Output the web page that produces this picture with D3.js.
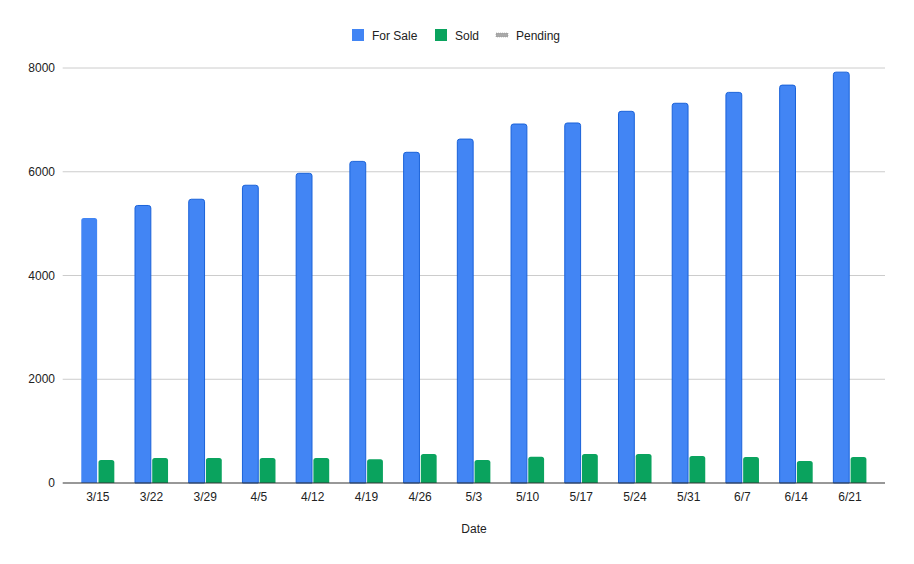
<!DOCTYPE html>
<html><head><meta charset="utf-8">
<script src="https://cdn.jsdelivr.net/npm/d3@7"></script>
<style>
body{margin:0;background:#fff;}
text{font-family:Arial,"Liberation Sans",sans-serif;}
</style></head>
<body><svg id="c" width="914" height="564"></svg>
<script>
const categories=["3/15","3/22","3/29","4/5","4/12","4/19","4/26","5/3","5/10","5/17","5/24","5/31","6/7","6/14","6/21"];
const forSale=[5110,5350,5470,5740,5970,6200,6375,6630,6920,6940,7165,7320,7530,7670,7920];
const sold=[443,482,482,482,482,457,559,443,507,559,559,520,501,424,501];
const seriesNames=["For Sale","Sold","Pending"];
const yTicks=[0,2000,4000,6000,8000];

(function(){
const svg=d3.select("#c");
const pLeft=62.7,pRight=885,pTop=68,pBottom=483;
const x=d3.scaleBand().domain(categories).range([pLeft,pRight]).paddingInner(0.385).paddingOuter(0.346);
const x1=d3.scaleBand().domain(["For Sale","Sold"]).range([0,x.bandwidth()]).paddingInner(0.08);
const y=d3.scaleLinear().domain([0,8000]).range([pBottom,pTop]);

svg.append("g").selectAll("line").data(yTicks.filter(d=>d>0)).join("line")
 .attr("x1",pLeft).attr("x2",pRight).attr("y1",d=>y(d)).attr("y2",d=>y(d))
 .attr("stroke","#cccccc").attr("stroke-width",1);
svg.append("g").selectAll("text").data(yTicks).join("text")
 .attr("x",55).attr("y",d=>y(d)).attr("dy","0.35em").attr("text-anchor","end")
 .attr("font-size",12).attr("fill","#222").text(d=>d);

function topRounded(x0,y0,w,h,r){
  r=Math.min(r,w/2,h);
  return `M${x0},${y0+h}V${y0+r}Q${x0},${y0} ${x0+r},${y0}H${x0+w-r}Q${x0+w},${y0} ${x0+w},${y0+r}V${y0+h}Z`;
}
const g=svg.append("g");
g.selectAll("path.fs").data(categories).join("path").attr("class","fs")
 .attr("d",(c,i)=>topRounded(x(c)+x1("For Sale"),y(forSale[i]),x1.bandwidth(),y(0)-y(forSale[i]),2.5))
 .attr("fill","#4285f4").attr("stroke",(c,i)=>i===0?"none":"#1a62d9").attr("stroke-width",1);
g.selectAll("path.sd").data(categories).join("path").attr("class","sd")
 .attr("d",(c,i)=>topRounded(x(c)+x1("Sold"),y(sold[i]),x1.bandwidth(),y(0)-y(sold[i]),2.5))
 .attr("fill","#0aa35e");

svg.append("line").attr("x1",pLeft).attr("x2",pRight).attr("y1",y(0)).attr("y2",y(0))
 .attr("stroke","#333").attr("stroke-width",1.2);

svg.append("g").selectAll("text").data(categories).join("text")
 .attr("x",c=>x(c)+x.bandwidth()/2).attr("y",501).attr("text-anchor","middle")
 .attr("font-size",12).attr("fill","#222").text(c=>c);
svg.append("text").attr("x",474).attr("y",533).attr("text-anchor","middle")
 .attr("font-size",12).attr("fill","#222").text("Date");

const lg=svg.append("g");
lg.append("rect").attr("x",352).attr("y",29).attr("width",12).attr("height",12).attr("fill","#4285f4");
lg.append("text").attr("x",372).attr("y",39.5).attr("font-size",12).attr("fill","#222").text(seriesNames[0]);
lg.append("rect").attr("x",435).attr("y",29).attr("width",12).attr("height",12).attr("fill","#0aa35e");
lg.append("text").attr("x",455).attr("y",39.5).attr("font-size",12).attr("fill","#222").text(seriesNames[1]);
lg.append("rect").attr("x",496).attr("y",33).attr("width",12).attr("height",4).attr("fill","#aaa").attr("stroke","#888").attr("stroke-width",0.5).attr("stroke-dasharray","1,1");
lg.append("text").attr("x",516).attr("y",39.5).attr("font-size",12).attr("fill","#222").text(seriesNames[2]);
})();
</script></body></html>
